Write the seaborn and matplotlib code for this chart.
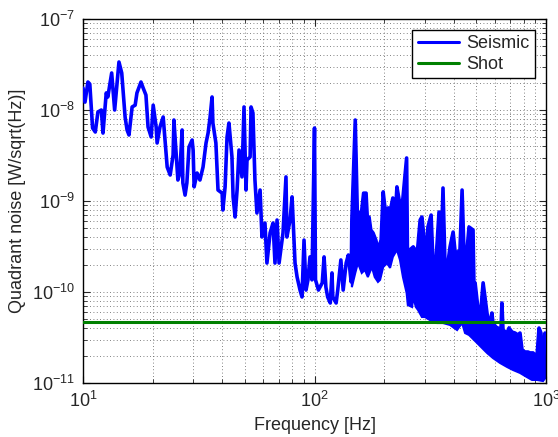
import numpy as np
import pandas as pd
import seaborn as sns
import matplotlib
matplotlib.use("Agg")
import matplotlib.pyplot as plt
from matplotlib.ticker import LogLocator

# seismic spectrum below ~145 Hz (Hz, W/sqrt(Hz))
seis_freq = [10.0, 10.2, 10.5, 10.7, 11.0, 11.3, 11.6, 12.0, 12.2, 12.6,
             12.8, 13.3, 13.7, 14.3, 14.7, 15.2, 15.5, 15.8, 16.3, 16.8,
             17.1, 17.8, 18.2, 18.7, 19.1, 19.7, 20.1, 20.7, 20.9, 21.5,
             22.2, 22.8, 23.1, 23.8, 24.5, 24.7, 25.2, 25.7, 26.2, 26.8,
             27.0, 27.6, 28.1, 28.7, 29.6, 29.9, 30.2, 31.1, 32.0, 33.0,
             34.0, 34.7, 35.4, 36.1, 36.4, 37.5, 38.3, 39.9, 40.2, 41.1,
             41.9, 42.7, 44.0, 44.5, 45.4, 46.3, 47.2, 48.6, 49.6, 50.6,
             51.1, 52.7, 53.2, 54.2, 55.3, 56.4, 58.2, 59.3, 61.1, 62.3,
             64.3, 66.2, 67.5, 68.9, 70.3, 73.1, 75.3, 76.0, 78.4, 80.0,
             82.4, 84.1, 86.6, 88.3, 90.1, 91.9, 93.7, 95.6, 97.5, 100.0,
             101, 104, 108, 110, 112, 114, 117, 119, 120, 124,
             126, 130, 133, 137, 140, 144]
seis_amp = [1.74e-8, 1.22e-8, 2.03e-8, 1.93e-8, 6.34e-9, 5.73e-9, 9.51e-9, 1.00e-8, 5.58e-9, 1.54e-8,
            1.39e-8, 2.55e-8, 1.00e-8, 3.37e-8, 2.55e-8, 8.38e-9, 6.03e-9, 5.31e-9, 1.08e-8, 1.13e-8,
            1.54e-8, 2.03e-8, 1.74e-8, 1.46e-8, 6.50e-9, 5.05e-9, 1.13e-8, 6.50e-9, 4.34e-9, 6.50e-9,
            8.38e-9, 3.63e-9, 2.36e-9, 1.93e-9, 3.20e-9, 7.76e-9, 3.63e-9, 1.70e-9, 2.03e-9, 6.03e-9,
            1.58e-9, 1.16e-9, 1.58e-9, 3.92e-9, 4.68e-9, 3.63e-9, 1.43e-9, 2.03e-9, 1.70e-9, 2.36e-9,
            4.34e-9, 5.58e-9, 8.38e-9, 1.39e-8, 7.19e-9, 4.34e-9, 1.32e-9, 1.22e-9, 7.96e-10, 1.43e-9,
            5.05e-9, 7.19e-9, 3.05e-9, 1.11e-9, 6.67e-10, 1.32e-9, 3.63e-9, 1.84e-9, 1.08e-8, 1.32e-9,
            2.82e-9, 3.05e-9, 1.08e-8, 9.27e-9, 1.70e-9, 7.38e-10, 1.32e-9, 4.02e-10, 5.73e-10, 2.08e-10,
            4.45e-10, 5.73e-10, 2.08e-10, 6.18e-10, 2.08e-10, 4.45e-10, 1.84e-9, 4.02e-10, 6.18e-10, 1.11e-9,
            2.08e-10, 1.46e-10, 1.05e-10, 8.81e-11, 3.72e-10, 1.05e-10, 1.36e-10, 2.43e-10, 1.36e-10, 6.34e-9,
            1.36e-10, 1.05e-10, 1.26e-10, 2.43e-10, 1.13e-10, 8.81e-11, 7.57e-11, 1.62e-10, 8.81e-11, 7.57e-11,
            1.05e-10, 2.25e-10, 1.05e-10, 2.08e-10, 2.55e-10, 1.29e-10]

# upper edge of the dense part above ~145 Hz
band_up_freq = [145, 150, 153, 156, 160, 163, 167, 169, 172, 175,
                179, 184, 188, 194, 198, 202, 208, 212, 218, 223,
                227, 232, 239, 241, 250, 252, 258, 267, 272, 277,
                286, 291, 294, 303, 309, 319, 325, 335, 345, 352,
                359, 366, 377, 385, 397, 405, 417, 425, 434, 442,
                456, 465, 484, 489, 494, 509, 519, 535, 556, 567,
                584, 590, 608, 620, 639, 645, 652, 679, 692, 713,
                735, 757, 772, 788, 811, 836, 853, 879, 914, 933,
                951, 971, 990, 1000]
band_up_amp = [6.18e-10, 7.76e-9, 7.96e-10, 6.67e-10, 7.96e-10, 1.22e-9, 1.22e-9, 6.67e-10, 6.67e-10, 4.80e-10,
               4.45e-10, 3.72e-10, 2.90e-10, 3.72e-10, 1.26e-9, 7.96e-10, 8.38e-10, 7.57e-10, 1.08e-9, 6.18e-10,
               1.43e-9, 1.03e-9, 9.04e-10, 1.08e-9, 2.97e-9, 2.90e-10, 2.90e-10, 3.13e-10, 2.90e-10, 2.43e-10,
               6.18e-10, 6.67e-10, 5.18e-10, 2.25e-10, 5.18e-10, 7.01e-10, 2.08e-10, 2.25e-10, 7.57e-10, 2.43e-10,
               1.39e-9, 2.08e-10, 2.08e-10, 3.13e-10, 4.56e-10, 2.75e-10, 2.75e-10, 2.90e-10, 1.32e-9, 2.90e-10,
               2.90e-10, 5.18e-10, 4.80e-10, 9.75e-11, 1.26e-10, 6.34e-11, 4.92e-11, 1.26e-10, 5.88e-11, 4.12e-11,
               5.88e-11, 4.56e-11, 4.12e-11, 4.02e-11, 3.82e-11, 7.57e-11, 3.82e-11, 3.54e-11, 4.02e-11, 3.63e-11,
               3.54e-11, 3.37e-11, 3.54e-11, 2.31e-11, 2.19e-11, 2.19e-11, 2.14e-11, 2.14e-11, 1.93e-11, 4.02e-11,
               3.54e-11, 1.79e-11, 3.54e-11, 2.97e-11]

# lower edge of the dense part
band_lo_freq = [145, 150, 154, 160, 165, 170, 177, 182, 188, 192,
                198, 206, 212, 218, 227, 234, 241, 250, 253, 264,
                267, 274, 280, 291, 300, 315, 338, 359, 385, 413,
                434, 447, 465, 479, 504, 529, 556, 590, 633, 679,
                720, 772, 828, 870, 914, 971, 1000]
band_lo_amp = [1.13e-10, 1.62e-10, 2.08e-10, 1.62e-10, 1.75e-10, 1.46e-10, 1.88e-10, 1.46e-10, 1.29e-10, 1.36e-10,
               1.88e-10, 2.08e-10, 1.84e-10, 2.43e-10, 2.90e-10, 2.25e-10, 1.46e-10, 9.75e-11, 7.19e-11, 6.84e-11,
               8.81e-11, 6.84e-11, 6.34e-11, 5.31e-11, 5.31e-11, 4.92e-11, 4.56e-11, 4.56e-11, 4.34e-11, 3.82e-11,
               4.56e-11, 3.54e-11, 3.37e-11, 3.13e-11, 2.75e-11, 2.43e-11, 2.14e-11, 1.88e-11, 1.66e-11, 1.50e-11,
               1.39e-11, 1.29e-11, 1.16e-11, 1.08e-11, 1.08e-11, 1.05e-11, 1.16e-11]

shot_freq = [10, 1000]
shot_amp = [4.7e-11, 4.7e-11]

sns.set_style("ticks")
plt.rcParams['font.family'] = ['Liberation Sans', 'DejaVu Sans']
plt.rcParams['mathtext.fontset'] = 'custom'
plt.rcParams['mathtext.rm'] = 'Liberation Sans'
plt.rcParams['mathtext.it'] = 'Liberation Sans'
plt.rcParams['mathtext.default'] = 'regular'

blue = (0, 0, 1)
green = (0, 0.5, 0)

df_seis = pd.DataFrame({"f": seis_freq + band_up_freq, "a": seis_amp + band_up_amp})
df_shot = pd.DataFrame({"f": shot_freq, "a": shot_amp})

fig = plt.figure(figsize=(5.58, 4.37), dpi=100)
ax = fig.add_axes([83 / 558, 1 - 383 / 437, 463 / 558, 364 / 437])

# fill the dense band between its edges
poly_f = band_up_freq + band_lo_freq[::-1]
poly_a = band_up_amp + band_lo_amp[::-1]
ax.fill(poly_f, poly_a, facecolor=blue, edgecolor=blue, lw=1.5, zorder=2)

sns.lineplot(data=df_seis, x="f", y="a", sort=False, estimator=None,
             color=blue, lw=2.6, ax=ax, label="Seismic", zorder=3)
sns.lineplot(data=df_shot, x="f", y="a", sort=False, estimator=None,
             color=green, lw=2.2, ax=ax, label="Shot", zorder=4)

ax.set_xscale("log")
ax.set_yscale("log")
ax.set_xlim(10, 1000)
ax.set_ylim(1e-11, 1e-7)

ax.xaxis.set_major_locator(LogLocator(base=10))
ax.yaxis.set_major_locator(LogLocator(base=10))
ax.xaxis.set_minor_locator(LogLocator(base=10, subs=np.arange(2, 10)))
ax.yaxis.set_minor_locator(LogLocator(base=10, subs=np.arange(2, 10)))

ax.grid(True, which="both", linestyle=(0, (1, 3)), color="0.35", lw=0.6)
ax.tick_params(which="both", direction="in", top=True, right=True, labelsize=13, pad=6)
ax.tick_params(which="major", length=5, width=0.8)
ax.tick_params(which="minor", length=3, width=0.6)
for s in ax.spines.values():
    s.set_linewidth(1.0)
    s.set_color("black")

ax.set_xlabel("Frequency [Hz]", fontsize=13)
ax.set_ylabel("Quadrant noise [W/sqrt(Hz)]", fontsize=13)

leg = ax.legend(loc="upper right", fontsize=13, frameon=True, fancybox=False,
                framealpha=1, edgecolor="black", borderpad=0.3, labelspacing=0.2,
                handlelength=2.3, handletextpad=0.4, borderaxespad=0.6)
leg.get_frame().set_linewidth(1.0)
for h in leg.get_lines():
    h.set_linewidth(2.2)

fig.savefig("out.png", dpi=100)
